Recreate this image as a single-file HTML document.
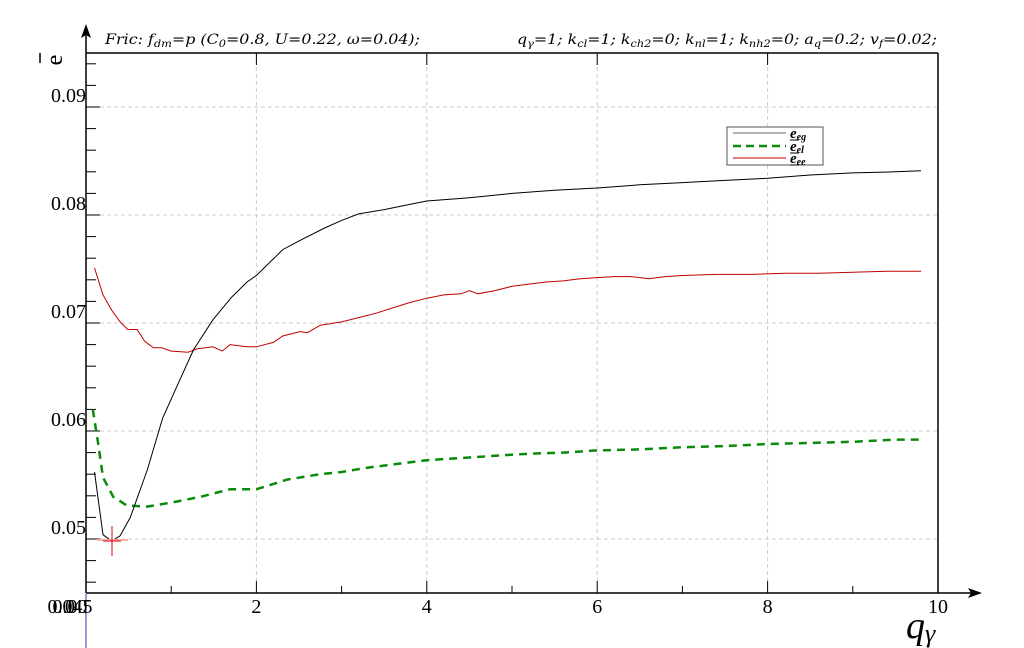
<!DOCTYPE html>
<html><head><meta charset="utf-8"><style>
body{margin:0;background:#fff;width:1024px;height:648px;overflow:hidden}
svg{display:block}
text{font-family:"Liberation Serif","DejaVu Serif",serif}
.hdr{font-family:"DejaVu Serif","Liberation Serif",serif;font-style:italic;font-size:14px}
</style></head><body>
<svg id="chart" width="1024" height="648">
<text class="hdr" x="105" y="44" textLength="315" lengthAdjust="spacingAndGlyphs">Fric: f<tspan font-size="10" dy="3">dm</tspan><tspan dy="-3">=p (C</tspan><tspan font-size="10" dy="3">0</tspan><tspan dy="-3">=0.8, U=0.22, ω=0.04);</tspan></text>
<text class="hdr" x="517" y="44" textLength="420" lengthAdjust="spacingAndGlyphs">q<tspan font-size="10" dy="3">γ</tspan><tspan dy="-3">=1; k</tspan><tspan font-size="10" dy="3">cl</tspan><tspan dy="-3">=1; k</tspan><tspan font-size="10" dy="3">ch2</tspan><tspan dy="-3">=0; k</tspan><tspan font-size="10" dy="3">nl</tspan><tspan dy="-3">=1; k</tspan><tspan font-size="10" dy="3">nh2</tspan><tspan dy="-3">=0; a</tspan><tspan font-size="10" dy="3">q</tspan><tspan dy="-3">=0.2; v</tspan><tspan font-size="10" dy="3">f</tspan><tspan dy="-3">=0.02;</tspan></text>
<g id="grid"></g><g id="axes"></g><g id="series"></g>
</svg>
<script>
const xTicks=[2,4,6,8,10];
const yTicks=[0.05,0.06,0.07,0.08,0.09];
const xEg=[0.1,0.2,0.3,0.4,0.52,0.72,0.9,1.1,1.26,1.49,1.71,1.89,2.0,2.31,2.5,2.8,3.0,3.2,3.5,3.75,4.0,4.5,5.0,5.5,6.0,6.5,7.0,7.5,8.0,8.5,9.0,9.5,9.8];
const yEg=[0.0562,0.0504,0.0498,0.0503,0.052,0.0564,0.0612,0.0647,0.0675,0.0703,0.0724,0.0738,0.0744,0.0768,0.0776,0.0788,0.0795,0.0801,0.0805,0.0809,0.0813,0.0816,0.082,0.0823,0.0825,0.0828,0.083,0.0832,0.0834,0.0837,0.0839,0.084,0.0841];
const xEl=[0.08,0.14,0.2,0.32,0.48,0.72,1.02,1.34,1.69,2.0,2.36,2.75,3.0,3.3,3.6,4.0,4.4,4.8,5.2,5.6,6.0,6.5,7.0,7.5,8.0,8.5,9.0,9.5,9.8];
const yEl=[0.062,0.059,0.0557,0.0539,0.0531,0.053,0.0534,0.0539,0.0546,0.0546,0.0555,0.056,0.0562,0.0566,0.0569,0.0573,0.0575,0.0577,0.0579,0.058,0.0582,0.0583,0.0585,0.0586,0.0588,0.0589,0.059,0.0592,0.0592];
const xEe=[0.1,0.2,0.3,0.4,0.49,0.6,0.69,0.79,0.89,1.0,1.2,1.3,1.49,1.6,1.69,1.89,2.0,2.2,2.31,2.51,2.6,2.75,3.0,3.2,3.4,3.6,3.8,4.0,4.2,4.4,4.5,4.6,4.8,5.0,5.2,5.4,5.6,5.8,6.0,6.2,6.4,6.6,6.8,7.0,7.4,7.8,8.2,8.6,9.0,9.4,9.8];
const yEe=[0.0751,0.0726,0.0712,0.0701,0.0694,0.0694,0.0683,0.0677,0.0677,0.0674,0.0673,0.0676,0.0678,0.0674,0.068,0.0678,0.0678,0.0682,0.0688,0.0692,0.0691,0.0698,0.0701,0.0705,0.0709,0.0714,0.0719,0.0723,0.0726,0.0727,0.073,0.0727,0.073,0.0734,0.0736,0.0738,0.0739,0.0741,0.0742,0.0743,0.0743,0.0741,0.0743,0.0744,0.0745,0.0745,0.0746,0.0746,0.0747,0.0748,0.0748];
const X0=86,X1=938,Y0=593,Y1=53;
const sx=v=>X0+v*(X1-X0)/10;
const sy=v=>539-(v-0.05)*10800;
const NS='http://www.w3.org/2000/svg';
function mk(tag,attrs,parent){const e=document.createElementNS(NS,tag);for(const k in attrs)e.setAttribute(k,attrs[k]);parent.appendChild(e);return e;}
const G=document.getElementById('grid'),A=document.getElementById('axes'),S=document.getElementById('series');
xTicks.slice(0,4).forEach(t=>{const l=mk('line',{x1:sx(t),x2:sx(t),y1:Y1,y2:Y0,stroke:'#ccc','stroke-dasharray':'4,3'},G);

});
yTicks.forEach(t=>{const l=mk('line',{x1:X0,x2:X1,y1:sy(t),y2:sy(t),stroke:'#ccc','stroke-dasharray':'4,3'},G);

});
mk('line',{x1:X0,x2:X1,y1:Y1,y2:Y1,stroke:'#000','stroke-width':1.5},A);
mk('line',{x1:X1,x2:X1,y1:Y1,y2:Y0,stroke:'#000','stroke-width':1.5},A);
const xa=mk('path',{d:`M${X0} ${Y0}H972`,stroke:'#000','stroke-width':1.5},A);


mk('path',{d:'M982 593L968 588L971 593L968 598Z',fill:'#000'},A);
const ya=mk('path',{d:`M${X0} ${Y0}V34`,stroke:'#000','stroke-width':1.5},A);


mk('path',{d:'M86 24L81 38L86 35L91 38Z',fill:'#000'},A);
mk('line',{x1:86,x2:86,y1:594,y2:648,stroke:'#3a3aa0'},A);
for(let i=1;i<=10;i++){const big=i%2==0;
mk('line',{x1:sx(i),x2:sx(i),y1:Y0,y2:Y0-(big?12:7),stroke:'#000'},A);
if(big&&i<10)mk('line',{x1:sx(i),x2:sx(i),y1:Y1,y2:Y1+12,stroke:'#000'},A);}
for(let v=0.046;v<0.095;v+=0.002){mk('line',{x1:X0,x2:X0+(Math.abs((v*1000)%10)<0.5||Math.abs((v*1000)%10-10)<0.5?14:10),y1:sy(v),y2:sy(v),stroke:'#000'},A);}
xTicks.forEach(t=>{const tx=mk('text',{x:sx(t),y:613,'font-size':20,'text-anchor':'middle'},A);tx.textContent=t;

});
yTicks.forEach(t=>{const tx=mk('text',{x:86,y:sy(t)-5,'font-size':20,'text-anchor':'end'},A);tx.textContent=t.toFixed(2);

});
['0.045','0.00','0'].forEach(s=>{const tx=mk('text',{x:70,y:613,'font-size':20,'text-anchor':'middle'},A);tx.textContent=s;

});
const yt=mk('text',{x:56,y:66,'font-size':24,'text-anchor':'middle',transform:'rotate(-90 56 60)'},A);yt.textContent='e';


mk('line',{x1:40,x2:40,y1:53,y2:63,stroke:'#000','stroke-width':1.5},A);
const xt=mk('text',{x:906,y:638,'font-size':38,'font-style':'italic'},A);xt.innerHTML='q<tspan font-size="26" dy="4">γ</tspan>';


function line(xs,ys,attrs,name){const d=xs.map((x,i)=>(i?'L':'M')+sx(x).toFixed(1)+' '+sy(ys[i]).toFixed(1)).join('');
const p=mk('path',Object.assign({d,fill:'none'},attrs),S);

}
line(xEl,yEl,{stroke:'#0a8a0a','stroke-width':2.5,'stroke-dasharray':'8,6'},'series-e-el');
line(xEe,yEe,{stroke:'#c00000','stroke-width':1},'series-e-ee');
line(xEg,yEg,{stroke:'#000','stroke-width':1},'series-e-eg');
mk('line',{x1:97,x2:128,y1:540,y2:540,stroke:'#f4b0b0','stroke-width':2},S);
mk('line',{x1:112,x2:112,y1:526,y2:556,stroke:'#e00000'},S);
const cur=mk('line',{x1:103,x2:121,y1:541,y2:541,stroke:'#e00000'},S);


const L=mk('g',{},S);


mk('rect',{x:727,y:127,width:96,height:38,fill:'#fff',stroke:'#555'},L);
[['#666',1,'',133,'eg'],['#0a8a0a',2.5,'8,5',146,'el'],['#c00000',1,'',158,'ee']].forEach(r=>{
mk('line',{x1:733,x2:786,y1:r[3],y2:r[3],stroke:r[0],'stroke-width':r[1],'stroke-dasharray':r[2]},L);
const t=mk('text',{x:790,y:r[3]+5,'font-size':15,'font-style':'italic','font-weight':'bold'},L);
t.innerHTML='e<tspan font-size="10" dy="2">'+r[4]+'</tspan>';


mk('line',{x1:790,x2:799,y1:r[3]+7,y2:r[3]+7,stroke:'#000'},L);});
</script>
</body></html>
